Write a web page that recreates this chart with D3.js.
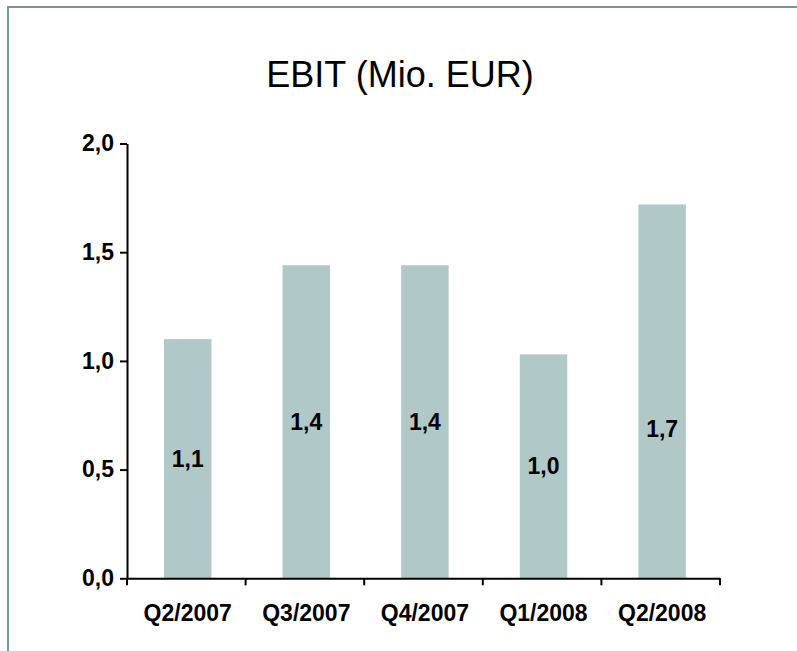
<!DOCTYPE html>
<html>
<head>
<meta charset="utf-8">
<script src="https://cdn.jsdelivr.net/npm/d3@7"></script>
<style>
    body { margin: 0; background: #fff; }
    svg { display: block; font-family: "Liberation Sans", Arial, sans-serif; }
</style>
</head>
<body>
<svg id="chart"></svg>
<script>
    "use strict";

    var quarters = ["Q2/2007", "Q3/2007", "Q4/2007", "Q1/2008", "Q2/2008"];
    var ebit = [1.10, 1.44, 1.44, 1.03, 1.72];
    var valueLabels = ["1,1", "1,4", "1,4", "1,0", "1,7"];
    var yTicks = [0, 0.5, 1.0, 1.5, 2.0];

    var width = 797, height = 651;
    var plot = { left: 127, right: 720, top: 143.5, bottom: 578.3 };
    var barColor = "#b0c8c8";
    var frameColor = "#6f9b9b";
    var labelSize = 23;

    var svg = d3.select("#chart")
        .attr("width", width)
        .attr("height", height);

    // frame (runs off the right and bottom edge in the original)
    svg.append("rect")
        .attr("x", 8)
        .attr("y", 7)
        .attr("width", width + 10)
        .attr("height", height + 10)
        .attr("fill", "#fff")
        .attr("stroke", frameColor)
        .attr("stroke-width", 2);

    svg.append("text")
        .text("EBIT (Mio. EUR)")
        .attr("x", 400)
        .attr("y", 87)
        .attr("text-anchor", "middle")
        .attr("font-size", 36)
        .attr("fill", "#000");

    var x = d3.scaleBand()
        .domain(quarters)
        .range([plot.left, plot.right])
        .paddingInner(0.6)
        .paddingOuter(0.3)
        .align(0.52);

    var y = d3.scaleLinear()
        .domain([0, 2])
        .range([plot.bottom, plot.top]);

    svg.selectAll("rect.bar")
        .data(ebit)
        .enter().append("rect")
        .attr("class", "bar")
        .attr("x", function(d, i) { return x(quarters[i]); })
        .attr("y", function(d) { return y(d); })
        .attr("width", x.bandwidth())
        .attr("height", function(d) { return y(0) - y(d); })
        .attr("fill", barColor);

    // value labels sit roughly half way up each bar
    svg.selectAll("text.val")
        .data(ebit)
        .enter().append("text")
        .attr("class", "val")
        .text(function(d, i) { return valueLabels[i]; })
        .attr("x", function(d, i) { return x(quarters[i]) + x.bandwidth() / 2; })
        .attr("y", function(d, i) { return y(i == 4 ? d * 0.4 : d / 2); })
        .attr("dy", "0.35em")
        .attr("text-anchor", "middle")
        .attr("font-size", labelSize)
        .attr("font-weight", "bold")
        .attr("fill", "#000");

    var yAxis = svg.append("g")
        .attr("transform", "translate(" + plot.left + ",0)")
        .call(d3.axisLeft(y)
            .tickValues(yTicks)
            .tickFormat(function(d) { return d3.format(".1f")(d).replace(".", ","); })
            .tickSize(7)
            .tickSizeOuter(0)
            .tickPadding(6));

    var xAxis = svg.append("g")
        .attr("transform", "translate(0," + plot.bottom + ")")
        .call(d3.axisBottom(x)
            .tickSize(0)
            .tickSizeOuter(0)
            .tickPadding(26));

    // tick marks between the categories
    var step = (plot.right - plot.left) / quarters.length;
    var bounds = d3.range(quarters.length + 1).map(function(i) { return plot.left + i * step; });
    xAxis.selectAll("line.sep")
        .data(bounds)
        .enter().append("line")
        .attr("class", "sep")
        .attr("x1", function(d) { return d; })
        .attr("x2", function(d) { return d; })
        .attr("y1", 0)
        .attr("y2", 7)
        .attr("stroke", "#000")
        .attr("stroke-width", 2);

    [yAxis, xAxis].forEach(function(g) {
        g.select(".domain").attr("stroke", "#000").attr("stroke-width", 2);
        g.selectAll(".tick line").attr("stroke", "#000").attr("stroke-width", 2);
        g.selectAll("text")
            .attr("font-family", "Liberation Sans, Arial, sans-serif")
            .attr("font-size", labelSize)
            .attr("font-weight", "bold")
            .attr("fill", "#000");
    });
</script>
</body>
</html>
